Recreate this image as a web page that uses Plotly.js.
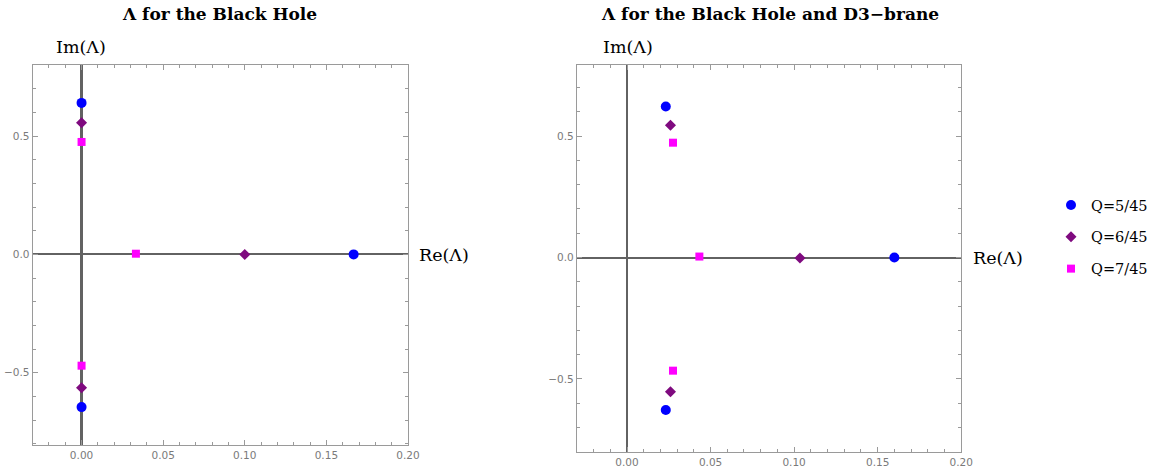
<!DOCTYPE html>
<html>
<head>
<meta charset="utf-8">
<script src="https://cdn.plot.ly/plotly-3.0.1.min.js"></script>
<style>html,body{margin:0;padding:0;background:#fff;}#chart{width:1153px;height:470px;}</style>
</head>
<body>
<div id="chart"></div>
<script>
// Series names
const seriesNames = ["Q=5/45", "Q=6/45", "Q=7/45"];
const seriesColors = ["#0000ff", "#7f0a7f", "#ff00ff"];

// Left panel: Λ for the Black Hole
const bhReQ5 = [0.0, 0.1667, 0.0];
const bhImQ5 = [0.640, 0.0, -0.645];
const bhReQ6 = [0.0, 0.1, 0.0];
const bhImQ6 = [0.556, 0.0, -0.563];
const bhReQ7 = [0.0, 0.0333, 0.0];
const bhImQ7 = [0.475, 0.003, -0.470];

// Right panel: Λ for the Black Hole and D3-brane
const d3ReQ5 = [0.0232, 0.160, 0.0232];
const d3ImQ5 = [0.622, 0.0, -0.628];
const d3ReQ6 = [0.026, 0.1035, 0.026];
const d3ImQ6 = [0.545, -0.002, -0.553];
const d3ReQ7 = [0.0275, 0.0433, 0.0275];
const d3ImQ7 = [0.473, 0.004, -0.466];

const xTickVals = [0, 0.05, 0.10, 0.15, 0.20];
const yTickVals = [-0.5, 0.0, 0.5];

const symbols = ["circle", "diamond", "square"];
const sizes = [10, 8.5, 8];

const bhRe = [bhReQ5, bhReQ6, bhReQ7], bhIm = [bhImQ5, bhImQ6, bhImQ7];
const d3Re = [d3ReQ5, d3ReQ6, d3ReQ7], d3Im = [d3ImQ5, d3ImQ6, d3ImQ7];

const traces = [];
for (let i = 0; i < 3; i++) {
  traces.push({x: bhRe[i], y: bhIm[i], xaxis: 'x', yaxis: 'y', mode: 'markers', type: 'scatter',
    name: seriesNames[i], showlegend: false, cliponaxis: false,
    marker: {symbol: symbols[i], size: sizes[i], color: seriesColors[i]}});
}
for (let i = 0; i < 3; i++) {
  traces.push({x: d3Re[i], y: d3Im[i], xaxis: 'x2', yaxis: 'y2', mode: 'markers', type: 'scatter',
    name: seriesNames[i], showlegend: true, legendgroup: 'g' + i, cliponaxis: false,
    marker: {symbol: symbols[i], size: sizes[i], color: seriesColors[i]}});
}

const frameColor = '#9a9a9a';
const tickFont = {family: 'DejaVu Sans', size: 10.5, color: '#7a7a7a'};
function xax(domain, anchor) {
  return {domain: domain, anchor: anchor, range: [-0.03, 0.2], tickvals: xTickVals, tickformat: '.2f',
    showgrid: false, zeroline: true, zerolinecolor: '#626262', zerolinewidth: 2.6,
    showline: true, mirror: 'ticks', linecolor: frameColor, linewidth: 1,
    ticks: 'inside', ticklen: 5, tickcolor: frameColor, tickwidth: 1,
    minor: {dtick: 0.01, tick0: 0, ticks: 'inside', ticklen: 3, tickcolor: frameColor, tickwidth: 1, showgrid: false},
    tickfont: tickFont, automargin: false, fixedrange: true};
}
function yax(domain, anchor, range) {
  return {domain: domain, anchor: anchor, range: range, tickvals: yTickVals, tickformat: '.1f',
    showgrid: false, zeroline: true, zerolinecolor: '#626262', zerolinewidth: 2,
    showline: true, mirror: 'ticks', linecolor: frameColor, linewidth: 1,
    ticks: 'inside', ticklen: 5, tickcolor: frameColor, tickwidth: 1,
    minor: {dtick: 0.1, tick0: 0, ticks: 'inside', ticklen: 3, tickcolor: frameColor, tickwidth: 1, showgrid: false},
    tickfont: tickFont, automargin: false, fixedrange: true};
}

const W = 1153, H = 470;
const titleFont = {family: 'DejaVu Serif', size: 17, color: '#000', weight: 'bold'};
const labelFont = {family: 'DejaVu Serif', size: 17.5, color: '#000'};

const layout = {
  width: W, height: H,
  margin: {l: 0, r: 0, t: 0, b: 0},
  paper_bgcolor: '#fff', plot_bgcolor: '#fff',
  xaxis: xax([33 / W, 413 / W], 'y'),
  yaxis: yax([1 - 445 / H, 1 - 65 / H], 'x', [-0.805, 0.8]),
  xaxis2: xax([584 / W, 973 / W], 'y2'),
  yaxis2: yax([1 - 452 / H, 1 - 65 / H], 'x2', [-0.801, 0.793]),
  showlegend: true,
  legend: {x: 1064 / W, y: 1 - 189 / H, xanchor: 'left', yanchor: 'top', bgcolor: 'rgba(0,0,0,0)',
    font: {family: 'DejaVu Serif', size: 14.5, color: '#000'}, tracegroupgap: 10, itemwidth: 30},
  annotations: [
    {text: '<b>Λ for the Black Hole</b>', xref: 'paper', yref: 'paper', x: 222 / W, y: 1 - 14 / H,
      xanchor: 'center', yanchor: 'middle', showarrow: false, font: titleFont},
    {text: '<b>Λ for the Black Hole and D3−brane</b>', xref: 'paper', yref: 'paper', x: 779 / W, y: 1 - 14 / H,
      xanchor: 'center', yanchor: 'middle', showarrow: false, font: titleFont},
    {text: 'Im(Λ)', xref: 'paper', yref: 'paper', x: 82 / W, y: 1 - 47 / H,
      xanchor: 'center', yanchor: 'middle', showarrow: false, font: labelFont},
    {text: 'Im(Λ)', xref: 'paper', yref: 'paper', x: 636 / W, y: 1 - 47 / H,
      xanchor: 'center', yanchor: 'middle', showarrow: false, font: labelFont},
    {text: 'Re(Λ)', xref: 'paper', yref: 'paper', x: 449 / W, y: 1 - 255 / H,
      xanchor: 'center', yanchor: 'middle', showarrow: false, font: labelFont},
    {text: 'Re(Λ)', xref: 'paper', yref: 'paper', x: 1010 / W, y: 1 - 258 / H,
      xanchor: 'center', yanchor: 'middle', showarrow: false, font: labelFont}
  ]
};

Plotly.newPlot('chart', traces, layout, {displayModeBar: false, staticPlot: true});
</script>
</body>
</html>
